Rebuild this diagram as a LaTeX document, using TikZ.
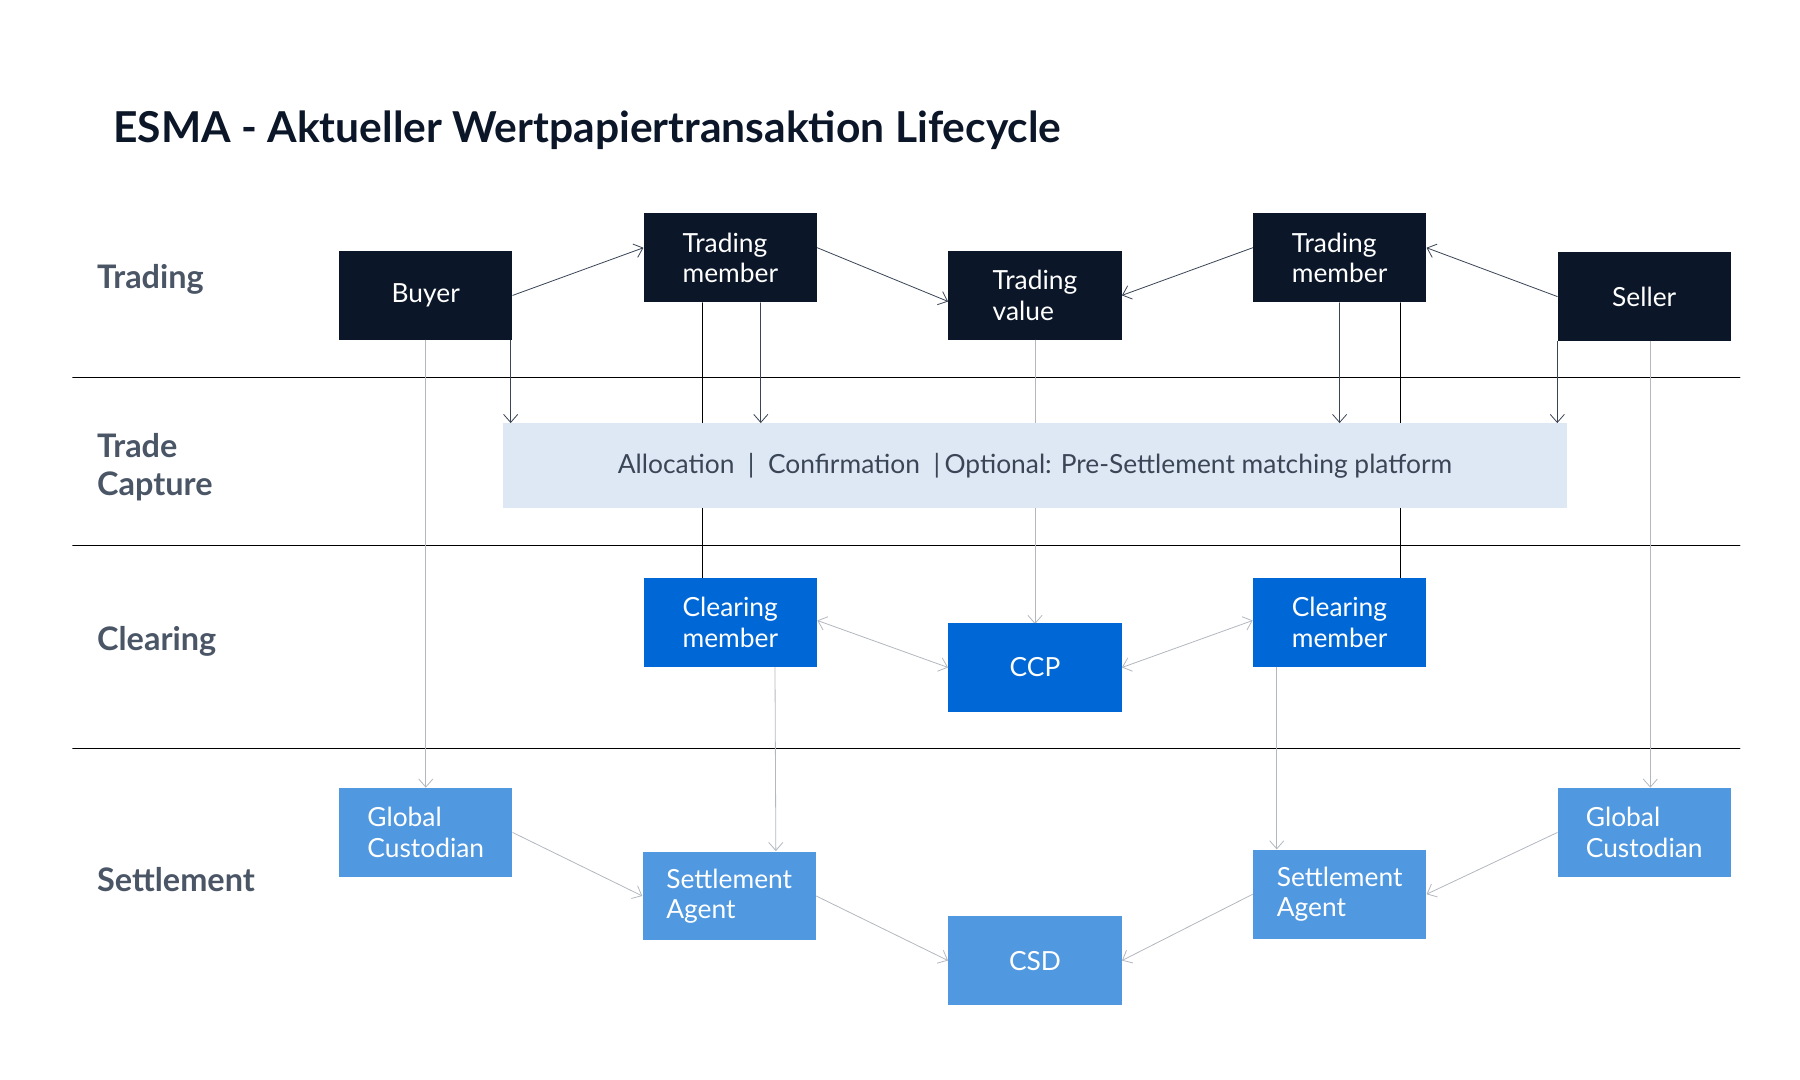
\documentclass[tikz,border=0pt]{standalone}
\usepackage{fontspec}
\setmainfont{Lato}
\usetikzlibrary{arrows.meta}
\definecolor{navy}{HTML}{0B1628}
\definecolor{ink}{HTML}{3A4556}
\definecolor{rowgray}{HTML}{4A5566}
\definecolor{pale}{HTML}{DEE8F5}
\definecolor{clearblue}{HTML}{0068D6}
\definecolor{settleblue}{HTML}{5098E0}
\definecolor{thin}{HTML}{B3B8BF}

\begin{document}
\begin{tikzpicture}[x = .02cm, y = -.02cm, line join = round, line cap = round,
  box/.style = {minimum width = 3cm, minimum height = 1.54cm, inner sep = 0pt,
    text = white, font = \fontsize{13}{15}\selectfont, align = left},
  trade/.style = {box, fill = navy},
  clear/.style = {box, fill = clearblue},
  settle/.style = {box, fill = settleblue},
  row/.style = {anchor = west, text = rowgray, font = \bfseries\fontsize{16}{19}\selectfont,
    align = left},
  dark/.style = {draw = ink, -{Straight Barb[length = 4pt, width = 7pt]}},
  light/.style = {draw = thin, -{Straight Barb[length = 4pt, width = 7pt]}},
  both/.style = {draw = thin, {Straight Barb[length = 4pt, width = 7pt]}-{Straight Barb[length = 4pt, width = 7pt]}}]
  \useasboundingbox (0, 0) rectangle (1560, 936);

  \node[anchor = west, text = navy, font = \bfseries\fontsize{21}{25}\selectfont]
  (title) at (92, 113) {ESMA - Aktueller Wertpapiertransaktion Lifecycle};

  % lanes
  \foreach \y in {327, 473, 649}
    \draw[thin] (63, \y) -- (1508, \y);
  \node[row] (lTrading) at (78, 242) {Trading};
  \node[row] (lCapture) at (78, 405) {Trade\\Capture};
  \node[row] (lClearing) at (78, 556) {Clearing};
  \node[row] (lSettlement) at (78, 762) {Settlement};

  % trading
  \node[trade] (buyer) at (369, 256) {Buyer};
  \node[trade] (tm1) at (633, 223.5) {Trading\\member};
  \node[trade] (value) at (897, 256) {Trading\\value};
  \node[trade] (tm2) at (1161, 223.5) {Trading\\member};
  \node[trade] (seller) at (1425, 257) {Seller};

  % lines passing behind the bar
  \draw[thin] ([xshift = -14]tm1.south) -- ++(0, 239);
  \draw[thin] ([xshift = 30]tm2.south) -- ++(0, 239);
  \draw[light] (value.south) -- ++(0, 246);

  \node[fill = pale, minimum width = 18.44cm, minimum height = 1.46cm, inner sep = 0pt,
    text = ink, font = \fontsize{13}{15}\selectfont] (capture) at (897, 403.5)
  {Allocation\ \ |\ \ Confirmation\ \ |\,Optional: Pre-Settlement matching platform};

  % clearing
  \node[clear] (cm1) at (633, 539.5) {Clearing\\member};
  \node[clear] (ccp) at (897, 578.5) {CCP};
  \node[clear] (cm2) at (1161, 539.5) {Clearing\\member};

  % settlement
  \node[settle] (gc1) at (369, 721.5) {Global\\Custodian};
  \node[settle] (sa1) at (632, 776.5) {Settlement\\Agent};
  \node[settle] (csd) at (897, 832.5) {CSD};
  \node[settle] (sa2) at (1161, 775) {Settlement\\Agent};
  \node[settle] (gc2) at (1425, 721.5) {Global\\Custodian};

  % trading arrows
  \draw[dark] (buyer.east) -- ([yshift = 5]tm1.west);
  \draw[dark] ([yshift = 5]tm1.east) -- ([yshift = -3]value.west);
  \draw[dark] ([yshift = 5]tm2.west) -- (value.east);
  \draw[dark] (seller.west) -- ([yshift = 5]tm2.east);
  \draw[dark] ([xshift = -1]buyer.south east) -- ([xshift = -1]buyer.south east |- capture.north);
  \draw[dark] ([xshift = 15]tm1.south) -- ([xshift = 15]tm1.south |- capture.north);
  \draw[dark] (tm2.south) -- (tm2.south |- capture.north);
  \draw[dark] (seller.south west) -- (seller.south west |- capture.north);

  % to settlement
  \draw[light] (buyer.south) -- (gc1.north);
  \draw[light] ([xshift = 3]seller.south) -- ([xshift = 3]gc2.north);
  \draw[light] ([xshift = 22]cm1.south) -- ([xshift = 23]sa1.north);
  \draw[light] ([xshift = -31]cm2.south) -- ([xshift = -31]sa2.north);

  \draw[both] ([yshift = 1]cm1.east) -- (ccp.west);
  \draw[both] (ccp.east) -- ([yshift = 1]cm2.west);
  \draw[light] (gc1.east) -- (sa1.west);
  \draw[light] (sa1.east) -- (csd.west);
  \draw[light] (sa2.west) -- (csd.east);
  \draw[light] (gc2.west) -- (sa2.east);
\end{tikzpicture}
\end{document}
